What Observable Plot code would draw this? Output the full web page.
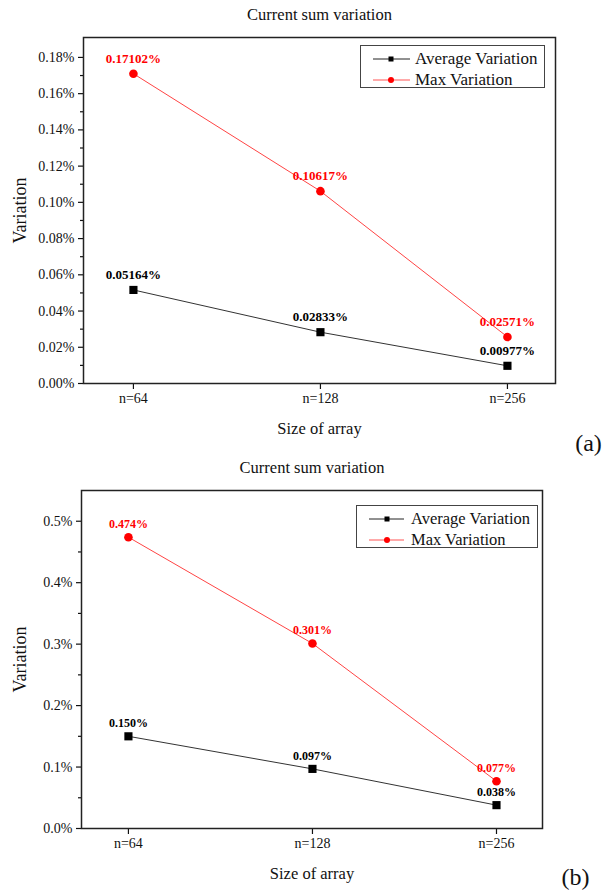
<!DOCTYPE html>
<html><head><meta charset="utf-8">
<script src="https://cdn.jsdelivr.net/npm/d3@7"></script>
<script src="https://cdn.jsdelivr.net/npm/@observablehq/plot@0.6"></script>
<style>
body{margin:0;background:#fff;}
#wrap{position:relative;width:614px;height:891px;font-family:"Liberation Serif","Times New Roman",serif;overflow:hidden;}
.panel{position:absolute;left:0;overflow:visible;}
svg text{font-family:"Liberation Serif","Times New Roman",serif !important;}
.legend{position:absolute;box-sizing:border-box;border:1px solid #444;background:#fff;}
.lrow{position:absolute;left:0;height:20px;}
.lrow svg{position:absolute;left:0;top:0;}
.lrow span{position:absolute;white-space:nowrap;line-height:20px;top:0;color:#111;}
</style></head><body><div id="wrap"></div>
<script>
// ---- data ----
const categories = ["n=64", "n=128", "n=256"];
const seriesNames = ["Average Variation", "Max Variation"];
const avgA = [0.05164, 0.02833, 0.00977];
const maxA = [0.17102, 0.10617, 0.02571];
const avgLabelsA = ["0.05164%", "0.02833%", "0.00977%"];
const maxLabelsA = ["0.17102%", "0.10617%", "0.02571%"];
const avgB = [0.150, 0.097, 0.038];
const maxB = [0.474, 0.301, 0.077];
const avgLabelsB = ["0.150%", "0.097%", "0.038%"];
const maxLabelsB = ["0.474%", "0.301%", "0.077%"];
const yTicksA = [0, 0.02, 0.04, 0.06, 0.08, 0.10, 0.12, 0.14, 0.16, 0.18];
const yMinorA = [0.01, 0.03, 0.05, 0.07, 0.09, 0.11, 0.13, 0.15, 0.17];
const yTicksB = [0, 0.1, 0.2, 0.3, 0.4, 0.5];
const yMinorB = [0.05, 0.15, 0.25, 0.35, 0.45];
const titleText = "Current sum variation";
const xTitle = "Size of array";
const yTitle = "Variation";

const RED = "#ff0000";
const FONT = "Liberation Serif";

function makePanel(cfg) {
  const rows = categories.map((c, i) => ({i, c, avg: cfg.avg[i], max: cfg.max[i], al: cfg.avgLabels[i], ml: cfg.maxLabels[i]}));
  const idx = categories.map((c, i) => i);
  const T = {fontFamily: FONT, fill: "#111"};
  const plot = Plot.plot({
    width: 614,
    height: cfg.height,
    marginLeft: cfg.ml, marginRight: cfg.mr, marginTop: cfg.mt, marginBottom: cfg.mb,
    style: {fontFamily: FONT, fontSize: "14px", background: "transparent", color: "#111", overflow: "visible"},
    x: {type: "linear", domain: cfg.xDomain, axis: null},
    y: {domain: cfg.yDomain, axis: null},
    marks: [
      Plot.axisY(cfg.yTicks, {tickSize: 5, tickPadding: 4, tickFormat: cfg.yFmt, fontSize: 14, fontFamily: FONT, label: null, strokeWidth: 1.2}),
      Plot.axisY(cfg.yMinor, {tickSize: 3, tickFormat: () => "", label: null, strokeWidth: 1.2}),
      Plot.axisX(idx, {tickSize: 6, tickPadding: 4, tickFormat: i => categories[i], fontSize: 14, fontFamily: FONT, label: null, strokeWidth: 1.2}),
      Plot.line(rows, {x: "i", y: "max", stroke: "#ff4444", strokeWidth: 1}),
      Plot.line(rows, {x: "i", y: "avg", stroke: "#333", strokeWidth: 1}),
      Plot.dot(rows, {x: "i", y: "avg", symbol: "square", r: 4.6, fill: "#000", stroke: "none"}),
      Plot.dot(rows, {x: "i", y: "max", symbol: "circle", r: 4.3, fill: RED, stroke: "none"}),
      Plot.text(rows, {x: "i", y: "avg", text: "al", dy: cfg.labelDy, fontWeight: "bold", fontSize: cfg.labelSize, fontFamily: FONT, fill: "#000"}),
      Plot.text(rows, {x: "i", y: "max", text: "ml", dy: cfg.labelDy, fontWeight: "bold", fontSize: cfg.labelSize, fontFamily: FONT, fill: RED}),
      Plot.frame({stroke: "#222", strokeWidth: 1.5}),
      Plot.text([titleText], {...T, text: d => d, frameAnchor: "top", dy: -23, fontSize: 16.5, textAnchor: "middle", lineAnchor: "middle"}),
      Plot.text([xTitle], {...T, text: d => d, frameAnchor: "bottom", dy: 45, fontSize: 16.5, textAnchor: "middle", lineAnchor: "middle"}),
      Plot.text([yTitle], {...T, text: d => d, frameAnchor: "left", dx: cfg.yTitleDx, rotate: -90, fontSize: 18, textAnchor: "middle", lineAnchor: "middle"}),
      Plot.text([cfg.tag], {...T, text: d => d, frameAnchor: "bottom-right", dx: 33, dy: cfg.tagDy, fontSize: 24, textAnchor: "middle", lineAnchor: "middle"})
    ]
  });
  plot.classList.add("panel");
  plot.style.top = cfg.top + "px";
  plot.style.position = "absolute";
  return plot;
}

function makeLegend(lg) {
  const box = document.createElement("div");
  box.className = "legend";
  Object.assign(box.style, {left: lg.left + "px", top: lg.top + "px", width: lg.w + "px", height: lg.h + "px"});
  const styles = [{stroke: "#222", fill: "#000", sym: "square"}, {stroke: "#ff5555", fill: RED, sym: "circle"}];
  seriesNames.forEach((name, k) => {
    const row = document.createElement("div");
    row.className = "lrow";
    row.style.top = (lg.rows[k] - 10) + "px";
    row.style.width = lg.w + "px";
    const s = styles[k];
    const marker = s.sym === "square"
      ? `<rect x="${lg.mx - 2.5}" y="7.5" width="5" height="5" fill="${s.fill}"/>`
      : `<circle cx="${lg.mx}" cy="10" r="3" fill="${s.fill}"/>`;
    row.innerHTML = `<svg width="${lg.tx}" height="20"><line x1="${lg.x1}" x2="${lg.x2}" y1="10" y2="10" stroke="${s.stroke}" stroke-width="1"/>${marker}</svg><span style="left:${lg.tx}px;font-size:${lg.fs}px">${name}</span>`;
    box.appendChild(row);
  });
  return box;
}

const wrap = document.getElementById("wrap");
wrap.appendChild(makePanel({
  avg: avgA, max: maxA, avgLabels: avgLabelsA, maxLabels: maxLabelsA,
  yDomain: [0, 0.191], yTicks: yTicksA, yMinor: yMinorA, yFmt: d => d.toFixed(2) + "%",
  xDomain: [-0.267, 2.257], height: 462, ml: 83, mr: 59, mt: 37, mb: 79, top: 0,
  labelSize: 13, labelDy: -15, yTitleDx: -63, tag: "(a)", tagDy: 60
}));
wrap.appendChild(makePanel({
  avg: avgB, max: maxB, avgLabels: avgLabelsB, maxLabels: maxLabelsB,
  yDomain: [0, 0.55], yTicks: yTicksB, yMinor: yMinorB, yFmt: d => d.toFixed(1) + "%",
  xDomain: [-0.255, 2.25], height: 441, ml: 81, mr: 72, mt: 40, mb: 63, top: 450,
  labelSize: 12, labelDy: -13, yTitleDx: -61, tag: "(b)", tagDy: 49
}));
wrap.appendChild(makeLegend({left: 360, top: 45, w: 185, h: 43, rows: [13, 34], x1: 12, x2: 49, mx: 30, tx: 54, fs: 17}));
wrap.appendChild(makeLegend({left: 356, top: 505, w: 182, h: 43, rows: [13, 34], x1: 12, x2: 47, mx: 30, tx: 54, fs: 16.5}));
</script></body></html>
